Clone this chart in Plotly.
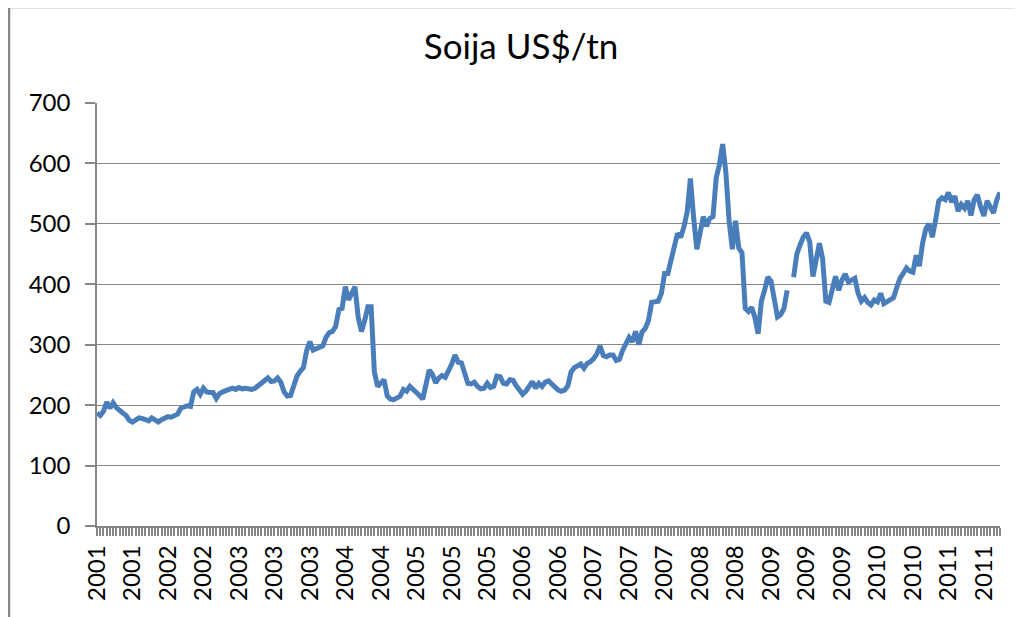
import plotly.graph_objects as go

# ---- data ----
title_text = "Soija US$/tn"

year_labels = ['2001', '2001', '2002', '2002', '2003', '2003', '2003', '2004', '2004',
               '2005', '2005', '2005', '2006', '2006', '2007', '2007', '2007', '2008',
               '2008', '2009', '2009', '2009', '2010', '2010', '2011', '2011']

soy_prices = [
    187, 183, 190, 205, 195, 204, 196, 190, 187, 183,
    175, 172, 175, 179, 178, 177, 174, 179, 176, 172,
    176, 179, 181, 180, 182, 185, 195, 198, 199, 198,
    222, 226, 218, 228, 222, 221, 221, 211, 219, 222,
    225, 226, 228, 226, 229, 227, 228, 227, 226, 228,
    232, 235, 240, 245, 239, 240, 245, 238, 222, 215,
    216, 232, 248, 256, 262, 290, 305, 291, 294, 296,
    298, 312, 320, 322, 330, 358, 360, 396, 374, 385,
    396, 345, 322, 340, 363, 363, 255, 231, 236, 242,
    215, 210, 209, 213, 215, 226, 223, 231, 226, 223,
    216, 210, 233, 258, 251, 237, 245, 249, 246, 256,
    268, 283, 271, 270, 250, 236, 235, 238, 231, 227,
    228, 236, 229, 231, 248, 247, 236, 235, 242, 241,
    232, 226, 218, 223, 232, 239, 228, 236, 231, 238,
    240, 234, 229, 225, 223, 225, 232, 255, 262, 264,
    268, 261, 269, 272, 277, 285, 298, 282, 280, 283,
    283, 274, 276, 291, 303, 312, 305, 322, 300, 321,
    327, 340, 370, 372, 372, 385, 418, 418, 440, 455,
    484, 478, 495, 520, 575, 510, 458, 485, 512, 496,
    509, 512, 576, 598, 632, 585, 505, 458, 505, 460,
    452, 360, 355, 362, 345, 318, 372, 390, 412, 405,
    380, 346, 350, 360, 390, None, 412, 450, 465, 478,
    485, 470, 413, 446, 468, 442, 372, 370, 395, 413,
    390, 407, 417, 404, 407, 410, 385, 372, 378, 370,
    366, 374, 371, 385, 368, 371, 373, 378, 395, 410,
    418, 427, 422, 420, 448, 430, 468, 492, 500, 478,
    505, 538, 543, 540, 552, 536, 546, 521, 532, 526,
    538, 514, 540, 548, 528, 513, 538, 527, 518, 540, 552,
]

LABEL_EVERY = 11

# ---- build ----
n = len(soy_prices)
x_idx = list(range(n))
tick_vals = x_idx
tick_text = []
for i in x_idx:
    k = i // LABEL_EVERY
    if i % LABEL_EVERY == 0 and k < len(year_labels):
        tick_text.append(year_labels[k])
    else:
        tick_text.append('')

GREY = '#868686'
FONT = 'Lato'

fig = go.Figure()
fig.add_trace(go.Scatter(
    x=x_idx, y=soy_prices, mode='lines',
    line=dict(color='#4a7ebb', width=5),
    connectgaps=False, hoverinfo='skip', showlegend=False,
))

# page body has an 8px margin; positions below are screen pixels
OFF = 8
W, H = 1023, 617
PL, PR, PT, PB = 97, 1000, 103, 526   # plot area on screen
ML = PL - OFF
MT = PT - OFF
MR = W - (PR - OFF)
MB = H - (PB - OFF)
pw = PR - PL
ph = PB - PT

def sx(px):
    return (px - PL) / pw

def sy(py):
    return (PB - py) / ph

fig.update_layout(
    width=W, height=H,
    margin=dict(l=ML, r=MR, t=MT, b=MB, pad=0),
    paper_bgcolor='white', plot_bgcolor='white',
    font=dict(family=FONT, color='black', size=24),
    title=dict(text=title_text, x=sx(521), xref='paper', xanchor='center',
               y=1 - (47 - OFF) / H, yref='container', yanchor='middle',
               font=dict(family=FONT, size=35, color='black')),
    xaxis=dict(
        range=[0, n - 1], tickmode='array', tickvals=tick_vals, ticktext=tick_text,
        tickangle=-90, ticks='outside', ticklen=8, tickwidth=2, tickcolor=GREY,
        showline=True, linecolor=GREY, linewidth=1.5, showgrid=False, zeroline=False,
        tickfont=dict(family=FONT, size=24, color='black'),
        ticklabelstandoff=0,
    ),
    yaxis=dict(
        range=[0, 700], dtick=100, tick0=0, ticks='outside', ticklen=10, tickwidth=1.5,
        tickcolor=GREY, showline=True, linecolor=GREY, linewidth=1.5,
        showgrid=True, gridcolor=GREY, gridwidth=1.3, zeroline=False,
        tickfont=dict(family=FONT, size=24, color='black'),
        ticklabelstandoff=10,
    ),
    shapes=[dict(
        type='rect', xref='paper', yref='paper',
        x0=sx(9), x1=sx(1040),
        y0=sy(640), y1=sy(7),
        line=dict(color=GREY, width=2.5), fillcolor='rgba(0,0,0,0)', layer='below',
    )],
)

fig.write_html("out.html")
